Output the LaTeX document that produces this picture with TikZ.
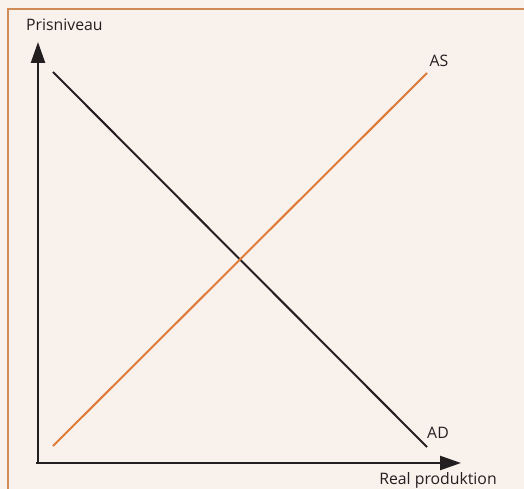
\documentclass[tikz,border=0pt]{standalone}
\usepackage{fontspec}
\setmainfont{Open Sans}
\usetikzlibrary{arrows.meta}
\definecolor{bg}{HTML}{F8F1EC}
\definecolor{frameor}{HTML}{D08A55}
\definecolor{asor}{HTML}{DE7B3A}
\definecolor{ink}{HTML}{231F20}
\tikzset{
  axis/.style={draw=ink, line width=2.4pt, -{Triangle[length=21pt,width=14pt]}},
  curve/.style={line width=2pt},
  lbl/.style={font=\fontsize{15.8}{18}\selectfont, text=ink, inner sep=0pt}
}
\begin{document}
\begin{tikzpicture}[x=1pt,y=-1pt]
\fill[bg] (0,0) rectangle (524,489);
\useasboundingbox (0,0) rectangle (524,489);
\draw[frameor, line width=2pt] (8,495) -- (8,9) -- (530,9);
\coordinate (O) at (38,463);
\coordinate (Ytip) at (38,42);
\coordinate (Xtip) at (461,463);
\coordinate (Ostart) at (36,463);
\draw[axis] (O) -- (Ytip);
\draw[axis] (Ostart) -- (Xtip);
\coordinate (ad1) at (53,72);
\coordinate (ad2) at (427,447);
\coordinate (as1) at (53,446);
\coordinate (as2) at (427,73);
\draw[curve, ink] (ad1) -- (ad2);
\draw[curve, asor] (as1) -- (as2);
\node[lbl, anchor=base west] (py) at (26,31) {Prisniveau};
\node[lbl, anchor=base] (as) at (439,67) {AS};
\node[lbl, anchor=base] (ad) at (438,438) {AD};
\node[lbl, anchor=base] (rx) at (438,484) {Real produktion};
\end{tikzpicture}
\end{document}
